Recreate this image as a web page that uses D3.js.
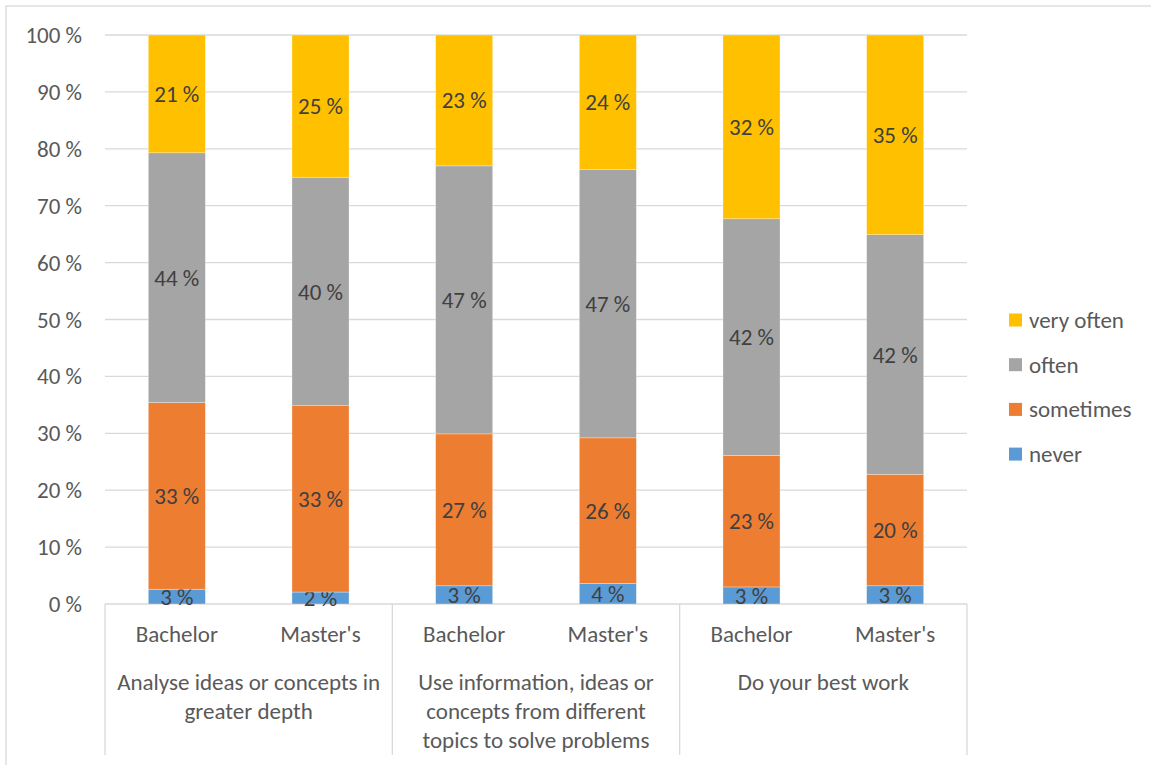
<!DOCTYPE html>
<html>
<head>
<meta charset="utf-8">
<script src="https://cdn.jsdelivr.net/npm/d3@7"></script>
<style>
  body { margin: 0; background: #fff; }
  svg { display: block; font-family: Calibri, Carlito, Lato, "Open Sans", sans-serif; }
</style>
</head>
<body>
<svg id="chart" width="1151" height="765"></svg>
<script>
// Chart data (percent)
const groups = [
    ['Analyse ideas or concepts in', 'greater depth'],
    ['Use information, ideas or', 'concepts from different', 'topics to solve problems'],
    ['Do your best work']
];
const levels = ['Bachelor', "Master's"];
const seriesNames = ['never', 'sometimes', 'often', 'very often'];
const seriesColors = ['#5B9BD5', '#ED7D31', '#A5A5A5', '#FFC000'];

const never = [2.6, 2.1, 3.2, 3.6, 3.0, 3.2];
const sometimes = [32.8, 32.75, 26.7, 25.6, 23.1, 19.6];
const often = [43.9, 40.15, 47.1, 47.2, 41.6, 42.1];
const veryOften = [20.7, 25.0, 23.0, 23.6, 32.3, 35.1];

const yTicks = [0, 10, 20, 30, 40, 50, 60, 70, 80, 90, 100];

const svg = d3.select('#chart');
const plot = { left: 105, right: 967, top: 35, bottom: 604 };
const gridColor = '#D9D9D9';
const textColor = '#595959';
const fontSize = '23px';

// outer chart border (right/bottom edges fall outside the window)
svg.append('rect')
    .attr('x', 6).attr('y', 6)
    .attr('width', 1160).attr('height', 780)
    .style('fill', '#fff')
    .style('stroke', gridColor)
    .style('stroke-width', 1.3);

// build bar records
const bars = [];
groups.forEach((g, gi) => {
    levels.forEach((lv, li) => {
        bars.push({ id: gi * 2 + li, group: gi, level: lv });
    });
});
const values = [never, sometimes, often, veryOften];
const table = bars.map((b, i) => {
    const row = { id: b.id };
    seriesNames.forEach((s, si) => { row[s] = values[si][i]; });
    return row;
});

const x = d3.scaleBand()
    .domain(bars.map(b => b.id))
    .range([plot.left, plot.right])
    .paddingInner(0.603)
    .paddingOuter(0.3015);

const y = d3.scaleLinear()
    .domain([0, 100])
    .range([plot.bottom, plot.top]);

// gridlines
svg.append('g')
    .selectAll('line')
    .data(yTicks)
    .enter()
    .append('line')
    .attr('x1', plot.left)
    .attr('x2', plot.right)
    .attr('y1', d => y(d))
    .attr('y2', d => y(d))
    .style('stroke', gridColor)
    .style('stroke-width', 1.3);

// y tick labels
svg.append('g')
    .selectAll('text')
    .data(yTicks)
    .enter()
    .append('text')
    .attr('x', 82)
    .attr('y', d => y(d))
    .attr('dy', '0.35em')
    .style('text-anchor', 'end')
    .style('font-size', fontSize)
    .style('fill', textColor)
    .text(d => d + ' %');

// stacked bars
const stack = d3.stack().keys(seriesNames);
const stacked = stack(table);

const layers = svg.append('g')
    .selectAll('g')
    .data(stacked)
    .enter()
    .append('g')
    .style('fill', (d, i) => seriesColors[i]);

layers.selectAll('rect')
    .data(d => d)
    .enter()
    .append('rect')
    .attr('x', d => x(d.data.id))
    .attr('width', x.bandwidth())
    .attr('y', d => y(d[1]))
    .attr('height', d => y(d[0]) - y(d[1]))
    .style('stroke', 'rgba(255,255,255,0.5)')
    .style('stroke-width', 0.6);

// data labels
layers.selectAll('text')
    .data(d => d)
    .enter()
    .append('text')
    .attr('x', d => x(d.data.id) + x.bandwidth() / 2)
    .attr('y', d => (y(d[0]) + y(d[1])) / 2)
    .attr('dy', '0.35em')
    .style('text-anchor', 'middle')
    .style('font-size', fontSize)
    .style('fill', '#404040')
    .text(d => Math.round(d[1] - d[0]) + ' %');

// category axis: group separators
const sepX = [plot.left].concat(groups.map((g, gi) => x(gi * 2 + 1) + x.bandwidth() + x.step() * x.paddingOuter()));
svg.append('g')
    .selectAll('line')
    .data(sepX)
    .enter()
    .append('line')
    .attr('x1', d => d)
    .attr('x2', d => d)
    .attr('y1', plot.bottom)
    .attr('y2', 755)
    .style('stroke', gridColor)
    .style('stroke-width', 1.3);

// level labels
svg.append('g')
    .selectAll('text')
    .data(bars)
    .enter()
    .append('text')
    .attr('x', d => x(d.id) + x.bandwidth() / 2)
    .attr('y', 634)
    .attr('dy', '0.35em')
    .style('text-anchor', 'middle')
    .style('font-size', fontSize)
    .style('fill', textColor)
    .text(d => d.level);

// group labels
const groupLabels = svg.append('g')
    .selectAll('text')
    .data(groups)
    .enter()
    .append('text')
    .attr('x', (d, gi) => (sepX[gi] + sepX[gi + 1]) / 2)
    .attr('y', 682)
    .style('text-anchor', 'middle')
    .style('font-size', fontSize)
    .style('fill', textColor);

groupLabels.each(function(lines) {
    const t = d3.select(this);
    const cx = t.attr('x');
    lines.forEach((line, i) => {
        t.append('tspan')
            .attr('x', cx)
            .attr('y', 682 + i * 29)
            .attr('dy', '0.35em')
            .text(line);
    });
});

// legend (top entry is very often)
const legendItems = seriesNames.map((s, i) => ({ name: s, color: seriesColors[i] })).reverse();
const legend = svg.append('g')
    .selectAll('g')
    .data(legendItems)
    .enter()
    .append('g')
    .attr('transform', (d, i) => `translate(1009, ${320 + i * 44.7})`);

legend.append('rect')
    .attr('x', 0)
    .attr('y', -6.5)
    .attr('width', 13)
    .attr('height', 13)
    .style('fill', d => d.color);

legend.append('text')
    .attr('x', 20)
    .attr('y', 0)
    .attr('dy', '0.35em')
    .style('font-size', fontSize)
    .style('fill', textColor)
    .text(d => d.name);
</script>
</body>
</html>
